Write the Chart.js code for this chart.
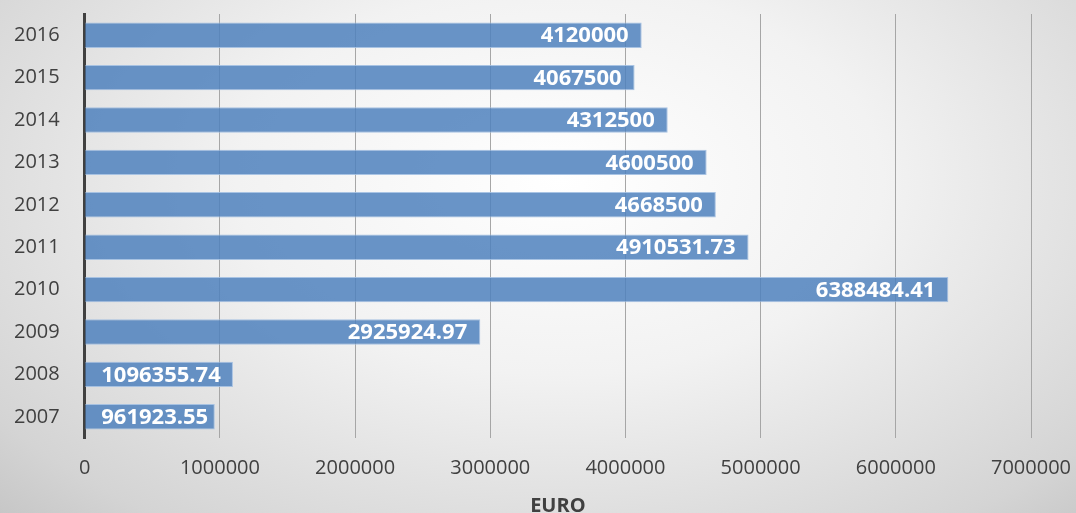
<!DOCTYPE html>
<html>
<head>
<meta charset="utf-8">
<script src="https://cdn.jsdelivr.net/npm/chart.js@4"></script>
<style>
  html, body { margin: 0; padding: 0; }
  body {
    width: 1076px; height: 513px; overflow: hidden;
    background: radial-gradient(ellipse 75% 95% at 52% 35%, #ffffff 0%, #f2f2f2 40%, #d4d4d4 85%, #c4c4c4 100%);
  }
  canvas { display: block; }
</style>
</head>
<body>
<canvas id="chart" width="1076" height="513"></canvas>
<script>
var years = ["2016", "2015", "2014", "2013", "2012", "2011", "2010", "2009", "2008", "2007"]
var amounts = [4120000, 4067500, 4312500, 4600500, 4668500, 4910531.73, 6388484.41, 2925924.97, 1096355.74, 961923.55]
var amountLabels = ["4120000", "4067500", "4312500", "4600500", "4668500", "4910531.73", "6388484.41", "2925924.97", "1096355.74", "961923.55"]
var axisTitle = "EURO"

// scritte bianche dentro la fine delle barre
const barLabels = {
  id: "barLabels",
  afterDatasetsDraw(chart) {
    const ctx = chart.ctx
    const meta = chart.getDatasetMeta(0)
    ctx.save()
    ctx.font = "bold 22px 'Open Sans'"
    ctx.fillStyle = "#ffffff"
    ctx.textBaseline = "middle"
    ctx.textAlign = "left"
    meta.data.forEach((bar, i) => {
      const txt = amountLabels[i]
      const w = ctx.measureText(txt).width
      let x = bar.x - 13 - w
      if (x < bar.base + 16) x = bar.base + 16
      ctx.fillText(txt, x, bar.y + 1)
    })
    ctx.restore()
  }
}

new Chart(document.getElementById("chart"), {
  type: "bar",
  data: {
    labels: years,
    datasets: [{
      data: amounts,
      backgroundColor: "rgba(79,129,189,0.85)",
      borderColor: "rgba(160,190,225,0.9)",
      borderWidth: 1,
      barPercentage: 0.6,
      categoryPercentage: 1
    }]
  },
  options: {
    indexAxis: "y",
    responsive: false,
    animation: false,
    layout: { padding: { top: 13, left: 12, right: 45, bottom: 0 } },
    plugins: {
      legend: { display: false },
      tooltip: { enabled: false }
    },
    scales: {
      x: {
        min: 0,
        max: 7000000,
        ticks: {
          stepSize: 1000000,
          autoSkip: false,
          color: "#404040",
          padding: 2,
          font: { family: "'Open Sans'", size: 20 },
          maxRotation: 0,
          callback: (v) => String(v)
        },
        grid: { color: "#a6a6a6", lineWidth: 1, drawTicks: true, tickLength: 16, tickColor: "rgba(0,0,0,0)" },
        border: { display: false },
        title: {
          display: true,
          text: axisTitle,
          color: "#404040",
          font: { family: "'Open Sans'", size: 20, weight: "bold" },
          padding: { top: 12, bottom: -5 }
        }
      },
      y: {
        ticks: {
          color: "#404040",
          padding: 2,
          autoSkip: false,
          font: { family: "'Open Sans'", size: 20 }
        },
        grid: { display: true, drawOnChartArea: false, drawTicks: true, tickLength: 23, tickColor: "rgba(0,0,0,0)" },
        border: { display: true, color: "#404040", width: 3 }
      }
    }
  },
  plugins: [barLabels]
})
</script>
</body>
</html>
